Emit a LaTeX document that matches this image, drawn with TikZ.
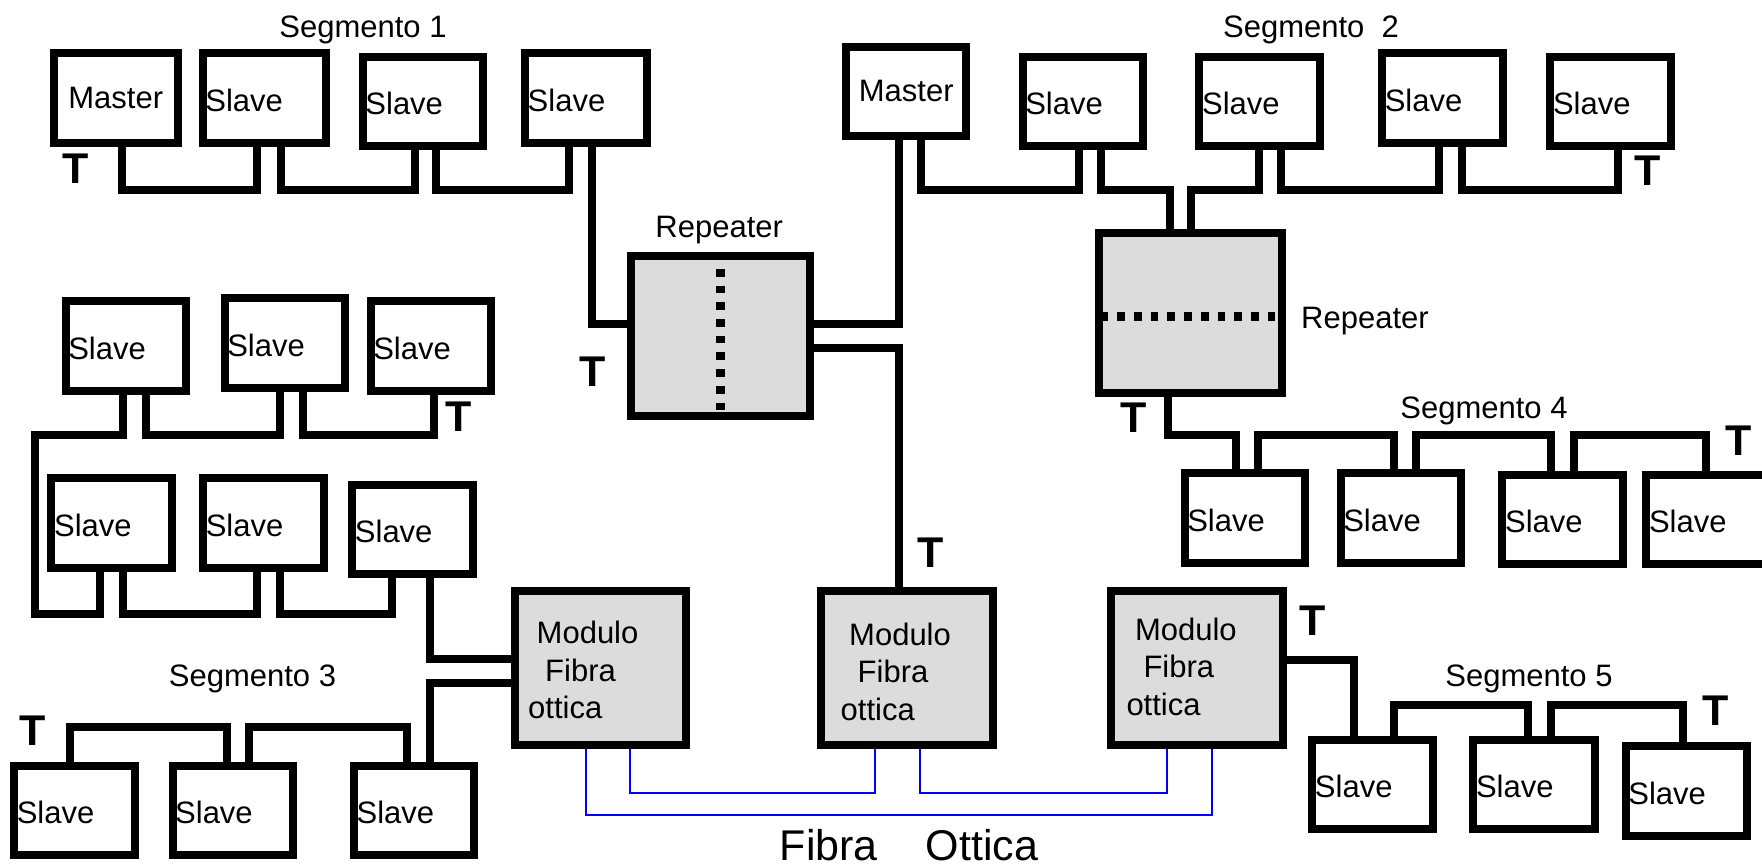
\documentclass[tikz,border=0pt]{standalone}
\usepackage{fontspec}
\setmainfont{Liberation Sans}
\definecolor{repgray}{RGB}{220,220,220}
\newcommand\txtfont{\fontsize{31}{37.5}\selectfont}
\newcommand\bigtfont{\fontsize{43}{50}\selectfont\bfseries}
\newcommand\fibfont{\fontsize{43}{50}\selectfont}
% style, from anchor, x1, y of bus, x2, to anchor
\newcommand\wire[6]{%
  \coordinate (wa) at (#3,#4);
  \coordinate (wb) at (#5,#4);
  \draw[#1] (#2 -| wa) -- (wa) -- (wb) -- (#6 -| wb);}
\begin{document}
\begin{tikzpicture}[x=1pt,y=-1pt,
  box/.style={draw, line width=8pt, inner sep=0pt, outer sep=4pt, fill=white,
    minimum width=120.5pt, minimum height=89.5pt, font=\txtfont},
  rep/.style={box, fill=repgray},
  bus/.style={line width=8pt, line join=miter, line cap=butt},
  fiber/.style={line width=2.2pt, blue, line join=miter},
  stl/.style={anchor=west, inner sep=0pt, xshift=6.5pt, yshift=-2pt, font=\txtfont},
  lbl/.style={inner sep=0pt, font=\txtfont, anchor=base},
  mtxt/.style={inner sep=0pt, font=\txtfont, anchor=north west, align=left},
  tee/.style={inner sep=0pt, font=\bigtfont, anchor=base},
  dotline/.style={line cap=butt, dash pattern=on 7.7pt off 9pt}]
\useasboundingbox (0,0) rectangle (1762,867);
\clip (0,0) rectangle (1762,867);

% ---------- Segment 1 ----------
\node[lbl] (seg1) at (363,38) {Segmento 1};
\node[box, minimum width=124.1pt] (m1) at (115.75,98) {Master};
\node[box, minimum width=123.7pt, label={[stl]180:Slave}] (s11) at (264.55,98) {};
\node[box, label={[stl]180:Slave}] (s12) at (423,101.35) {};
\node[box, minimum width=122pt, label={[stl]180:Slave}] (s13) at (586,98) {};

% ---------- Segment 2 ----------
\node[lbl] (seg2) at (1311,38) {Segmento\ \ 2};
\node[box] (m2) at (906.2,91.35) {Master};
\node[box, label={[stl]180:Slave}] (s21) at (1082.8,101.35) {};
\node[box, label={[stl]180:Slave}] (s22) at (1259.7,101.35) {};
\node[box, label={[stl]180:Slave}] (s23) at (1442.35,98) {};
\node[box, label={[stl]180:Slave}] (s24) at (1610.6,101.35) {};

% ---------- Repeaters ----------
\node[lbl] (rep1) at (719.2,237) {Repeater};
\node[rep, minimum width=179.3pt, minimum height=160.3pt] (r1) at (720.35,335.85) {};
\node[lbl, anchor=base west] (rep2) at (1301,328) {Repeater};
\node[rep, minimum width=182.8pt, minimum height=160pt] (r2) at (1190.8,313.3) {};

% ---------- Segment 3 (upper rows) ----------
\node[box, label={[stl]180:Slave}] (a1) at (125.85,346.15) {};
\node[box, label={[stl]180:Slave}] (a2) at (284.85,343) {};
\node[box, label={[stl]180:Slave}] (a3) at (430.85,346.15) {};
\node[box, label={[stl]180:Slave}] (b1) at (111.65,523) {};
\node[box, label={[stl]180:Slave}] (b2) at (263.35,523) {};
\node[box, label={[stl]180:Slave}] (b3) at (412.5,529.5) {};

% ---------- Segment 3 (bottom row) ----------
\node[lbl] (seg3) at (252.5,686) {Segmento 3};
\node[box, label={[stl]180:Slave}] (c1) at (74.35,810.5) {};
\node[box, label={[stl]180:Slave}] (c2) at (232.75,810.5) {};
\node[box, label={[stl]180:Slave}] (c3) at (414.2,810.5) {};

% ---------- Fibre modules ----------
\node[rep, minimum width=170.6pt, minimum height=154.3pt] (f1) at (600.5,667.85) {};
\node[rep, minimum width=172.1pt, minimum height=154.3pt] (f2) at (907.35,667.85) {};
\node[rep, minimum width=172pt, minimum height=154.3pt] (f3) at (1197,667.85) {};
\node[mtxt] (f1t) at (528,621.1) {\hspace*{8.5pt}Modulo\\\hspace*{17pt}Fibra\\ottica};
\node[mtxt] (f2t) at (840.5,622.8) {\hspace*{8.5pt}Modulo\\\hspace*{17pt}Fibra\\ottica};
\node[mtxt] (f3t) at (1126.3,617.8) {\hspace*{8.5pt}Modulo\\\hspace*{17pt}Fibra\\ottica};

% ---------- Segment 4 ----------
\node[lbl] (seg4) at (1484,418) {Segmento 4};
\node[box, label={[stl]180:Slave}] (d1) at (1244.85,518) {};
\node[box, label={[stl]180:Slave}] (d2) at (1400.8,518) {};
\node[box, label={[stl]180:Slave}] (d3) at (1562.7,519.65) {};
\node[box, label={[stl]180:Slave}] (d4) at (1706.6,519.65) {};

% ---------- Segment 5 ----------
\node[lbl] (seg5) at (1529,686.5) {Segmento 5};
\node[box, label={[stl]180:Slave}] (e1) at (1372.5,784.65) {};
\node[box, minimum width=121.7pt, label={[stl]180:Slave}] (e2) at (1534.15,784.65) {};
\node[box, minimum width=121.3pt, label={[stl]180:Slave}] (e3) at (1686.35,791.15) {};

% ---------- Fibre label ----------
\node[lbl, font=\fibfont, anchor=base west] (fib) at (779.6,860) {Fibra\hspace{48pt}Ottica};

% ---------- Terminators ----------
\node[tee] (t1) at (76,183) {T};
\node[tee] (t2) at (593,386.7) {T};
\node[tee] (t3) at (1648,185) {T};
\node[tee] (t4) at (1134,432) {T};
\node[tee] (t5) at (1739,455) {T};
\node[tee] (t6) at (459,431.7) {T};
\node[tee] (t7) at (931,567) {T};
\node[tee] (t8) at (33,745) {T};
\node[tee] (t9) at (1313,635) {T};
\node[tee] (t10) at (1715.5,725) {T};

% ---------- Repeater dotted separators ----------
\draw[dotline, line width=8.7pt, dash phase=16.2pt] (r1.north) -- (r1.south);
\draw[dotline, line width=9.5pt, dash phase=11.5pt] ([yshift=-3pt]r2.west) -- ([yshift=-3pt]r2.east);

% ---------- Segment 1 bus ----------
\wire{bus}{m1.south}{122}{190}{257}{s11.south}
\wire{bus}{s11.south}{281}{190}{415}{s12.south}
\wire{bus}{s12.south}{436}{190}{568.6}{s13.south}
\coordinate (k1) at (591.7,324);
\draw[bus] (s13.south -| k1) -- (k1) -- (r1.west |- k1);
\coordinate (k2) at (898.7,324);
\draw[bus] (r1.east |- k2) -- (k2) -- (m2.south -| k2);
\coordinate (k3) at (898.7,347.5);
\draw[bus] (r1.east |- k3) -- (k3) -- (f2.north -| k3);

% ---------- Segment 2 bus ----------
\wire{bus}{m2.south}{921}{190}{1078.8}{s21.south}
\wire{bus}{s21.south}{1101}{190}{1170}{r2.north}
\wire{bus}{r2.north}{1191}{190}{1259.3}{s22.south}
\wire{bus}{s22.south}{1280.8}{190}{1438.8}{s23.south}
\wire{bus}{s23.south}{1461.5}{190}{1618.4}{s24.south}

% ---------- Segment 4 bus ----------
\wire{bus}{r2.south}{1168}{435}{1235.7}{d1.north}
\wire{bus}{d1.north}{1258}{435}{1393.6}{d2.north}
\wire{bus}{d2.north}{1416.3}{435}{1551.4}{d3.north}
\wire{bus}{d3.north}{1574}{435}{1705.8}{d4.north}

% ---------- Segment 3 bus ----------
\coordinate (l1) at (123,434.5);
\coordinate (l2) at (35,434.5);
\coordinate (l3) at (35,613.7);
\coordinate (l4) at (100.3,613.7);
\draw[bus] (a1.south -| l1) -- (l1) -- (l2) -- (l3) -- (l4) -- (b1.south -| l4);
\wire{bus}{a1.south}{146}{434.5}{280.3}{a2.south}
\wire{bus}{a2.south}{303}{434.5}{433.7}{a3.south}
\wire{bus}{b1.south}{123}{613.7}{257.3}{b2.south}
\wire{bus}{b2.south}{280.3}{613.7}{392}{b3.south}
\coordinate (g1) at (429.5,659.3);
\draw[bus] (b3.south -| g1) -- (g1) -- (f1.west |- g1);
\coordinate (g2) at (429.5,682.7);
\draw[bus] (f1.west |- g2) -- (g2) -- (c3.north -| g2);
\wire{bus}{c3.north}{406.6}{726.7}{249}{c2.north}
\wire{bus}{c2.north}{227}{726.7}{70}{c1.north}

% ---------- Segment 5 bus ----------
\coordinate (h1) at (1353.7,659.7);
\draw[bus] (f3.east |- h1) -- (h1) -- (e1.north -| h1);
\wire{bus}{e1.north}{1393.7}{705.3}{1527.8}{e2.north}
\wire{bus}{e2.north}{1551.2}{705.3}{1683}{e3.north}

% ---------- Optical fibre ----------
\wire{fiber}{f1.south}{585.7}{815.3}{1211.7}{f3.south}
\wire{fiber}{f1.south}{630}{792.7}{875}{f2.south}
\wire{fiber}{f2.south}{920}{792.7}{1166.8}{f3.south}
\end{tikzpicture}
\end{document}
